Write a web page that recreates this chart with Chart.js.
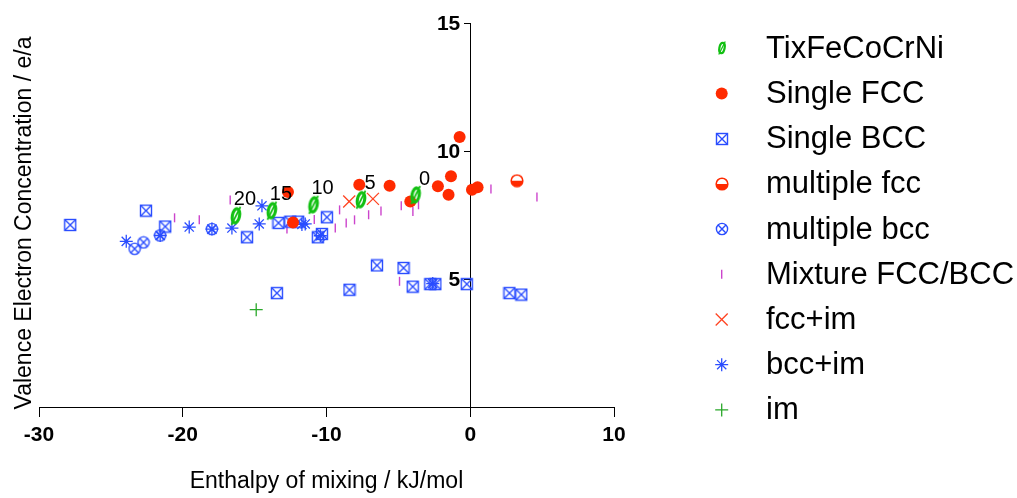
<!DOCTYPE html>
<html><head><meta charset="utf-8">
<script src="https://cdn.jsdelivr.net/npm/chart.js@4"></script>
<style>html,body{margin:0;padding:0;background:#fff;}canvas{display:block;}</style>
</head><body>
<canvas id="c" width="1017" height="498"></canvas>
<script>
// ---- data ----
const tiX = [-16.3, -13.8, -10.9, -7.6, -3.8];
const tiY = [7.47, 7.67, 7.90, 8.10, 8.28];
const tiLabels = ['20', '15', '10', '5', '0'];

const fccX = [-12.68, -12.33, -7.72, -5.61, -4.17, -2.25, -1.34, -1.51, -0.74, 0.12, 0.51];
const fccY = [8.40, 7.21, 8.68, 8.64, 8.03, 8.62, 9.01, 8.29, 10.55, 8.49, 8.58];

const bccX = [-27.83, -22.56, -21.22, -15.53, -13.34, -12.52, -11.97, -9.97, -10.32, -10.6, -6.49, -4.64, -4.0, -2.78, -2.43, -0.24, -13.45, -8.4, 2.73, 3.55];
const bccY = [7.11, 7.67, 7.05, 6.63, 7.19, 7.24, 7.24, 7.41, 6.76, 6.63, 5.53, 5.43, 4.70, 4.80, 4.80, 4.80, 4.45, 4.58, 4.45, 4.39];

const mfccX = [3.25];
const mfccY = [8.84];

const mbccX = [-23.35, -22.73, -21.57, -17.97];
const mbccY = [6.18, 6.43, 6.70, 6.95];

const mixX = [-20.57, -18.85, -16.7, -12.75, -10.85, -9.39, -9.09, -8.63, -8.05, -7.07, -6.21, -4.8, -3.99, -3.6, 1.44, 4.64, -4.92];
const mixY = [7.39, 7.31, 8.09, 6.95, 7.32, 6.99, 7.70, 7.19, 7.31, 7.51, 7.66, 7.86, 7.64, 7.90, 8.52, 8.20, 4.91];

const fccImX = [-8.42, -6.77];
const fccImY = [8.03, 8.13];

const bccImX = [-23.93, -21.57, -19.55, -17.97, -16.58, -14.49, -14.68, -11.71, -11.48, -10.43, -2.61];
const bccImY = [6.47, 6.70, 7.03, 6.95, 6.99, 7.86, 7.15, 7.13, 7.15, 6.69, 4.82];

const imX = [-14.89];
const imY = [3.80];

const xTicks = [-30, -20, -10, 0, 10];
const yTicks = [5, 10, 15];
const seriesNames = ['TixFeCoCrNi', 'Single FCC', 'Single BCC', 'multiple fcc', 'multiple bcc', 'Mixture FCC/BCC', 'fcc+im', 'bcc+im', 'im'];

// ---- styles ----
const GREEN = '#12c012', RED = '#ff2a00', BLUE = '#2a4dff', MAG = '#cc44cc', GREEN2 = '#2aa82a';
const FONT = '"Liberation Sans", Arial, sans-serif';

function mk(w, h, draw) { const c = document.createElement('canvas'); c.width = w; c.height = h; draw(c.getContext('2d'), w, h); return c; }
function phiImg(s) {
  const w = Math.round(14 * s), h = Math.round(22 * s);
  return mk(w, h, (g) => {
    g.translate(w / 2, h / 2); g.rotate(0.2);
    g.strokeStyle = GREEN; g.lineWidth = 3.1 * s;
    g.beginPath(); g.ellipse(0, 0, 3.6 * s, 7.2 * s, 0, 0, Math.PI * 2); g.stroke();
    g.rotate(-0.2);
    g.lineWidth = 1.7 * s; g.beginPath(); g.moveTo(-4.5 * s, 9 * s); g.lineTo(4.5 * s, -9 * s); g.stroke();
  });
}
const boxX = mk(14, 14, (g) => {
  g.strokeStyle = BLUE; g.lineWidth = 1.4;
  g.strokeRect(1.5, 1.5, 11, 11);
  g.beginPath(); g.moveTo(2, 2); g.lineTo(12, 12); g.moveTo(12, 2); g.lineTo(2, 12); g.stroke();
});
const circX = mk(14, 14, (g) => {
  g.strokeStyle = BLUE; g.lineWidth = 1.4;
  g.beginPath(); g.arc(7, 7, 5.6, 0, Math.PI * 2); g.stroke();
  const r = 5.6 * 0.707;
  g.beginPath(); g.moveTo(7 - r, 7 - r); g.lineTo(7 + r, 7 + r); g.moveTo(7 + r, 7 - r); g.lineTo(7 - r, 7 + r); g.stroke();
});
const halfC = mk(14, 14, (g) => {
  g.fillStyle = '#fff'; g.beginPath(); g.arc(7, 7, 5.8, 0, Math.PI * 2); g.fill();
  g.fillStyle = RED; g.beginPath(); g.arc(7, 7, 5.8, 0, Math.PI); g.closePath(); g.fill();
  g.strokeStyle = RED; g.lineWidth = 1.6; g.beginPath(); g.arc(7, 7, 5.8, 0, Math.PI * 2); g.stroke();
});
const phiPlot = phiImg(1), phiLeg = phiImg(0.72);

function pts(xs, ys) { return xs.map((x, i) => ({ x: x, y: ys[i] })); }

const datasets = [
  { label: seriesNames[0], data: pts(tiX, tiY), pointStyle: phiPlot, legendStyle: phiLeg },
  { label: seriesNames[1], data: pts(fccX, fccY), pointStyle: 'circle', pointRadius: 6, backgroundColor: RED, borderColor: RED, borderWidth: 0 },
  { label: seriesNames[2], data: pts(bccX, bccY), pointStyle: boxX },
  { label: seriesNames[3], data: pts(mfccX, mfccY), pointStyle: halfC },
  { label: seriesNames[4], data: pts(mbccX, mbccY), pointStyle: circX },
  { label: seriesNames[5], data: pts(mixX, mixY), pointStyle: 'line', rotation: 90, pointRadius: 4.5, borderColor: MAG, borderWidth: 1.4 },
  { label: seriesNames[6], data: pts(fccImX, fccImY), pointStyle: 'crossRot', pointRadius: 8.5, borderColor: '#ff4422', borderWidth: 1.3 },
  { label: seriesNames[7], data: pts(bccImX, bccImY), pointStyle: 'star', pointRadius: 6.5, borderColor: BLUE, borderWidth: 1.3 },
  { label: seriesNames[8], data: pts(imX, imY), pointStyle: 'cross', pointRadius: 6.5, borderColor: GREEN2, borderWidth: 1.3 }
];
datasets.forEach(d => { d.showLine = false; if (d.pointRadius === undefined) d.pointRadius = 7; d.pointHoverRadius = d.pointRadius; });

const extras = {
  id: 'extras',
  afterDraw(chart) {
    const ctx = chart.ctx;
    const ca = chart.chartArea;
    const xs = chart.scales.x, ys = chart.scales.y;
    ctx.save();
    // y tick labels, left of the centred axis
    ctx.fillStyle = '#000'; ctx.font = 'bold 21px ' + FONT; ctx.textAlign = 'right'; ctx.textBaseline = 'middle';
    const ax = xs.getPixelForValue(0);
    yTicks.forEach(v => ctx.fillText(String(v), ax - 10, ys.getPixelForValue(v) + 1));
    // labels on TixFeCoCrNi points
    ctx.font = '20px ' + FONT; ctx.textAlign = 'center';
    chart.getDatasetMeta(0).data.forEach((el, i) => { ctx.fillText(tiLabels[i], el.x + 9, el.y - 16); });
    // axis titles
    ctx.font = '23px ' + FONT;
    ctx.fillText('Enthalpy of mixing / kJ/mol', (ca.left + ca.right) / 2, 482);
    ctx.save(); ctx.translate(25, 223); ctx.rotate(-Math.PI / 2);
    ctx.fillText('Valence Electron Concentration / e/a', 0, 0); ctx.restore();
    // legend
    ctx.textAlign = 'left'; ctx.font = '31px ' + FONT;
    datasets.forEach((d, i) => {
      const y = 48.3 + 45.2 * i, x = 721.7;
      const st = d.legendStyle || d.pointStyle;
      if (typeof st !== 'string') {
        ctx.drawImage(st, Math.round(x - st.width / 2), Math.round(y - st.height / 2));
      } else {
        ctx.fillStyle = d.backgroundColor || d.borderColor; ctx.strokeStyle = d.borderColor || d.backgroundColor;
        ctx.lineWidth = d.borderWidth || 1;
        Chart.helpers.drawPoint(ctx, { pointStyle: st, rotation: d.rotation || 0, radius: d.pointRadius, borderWidth: d.borderWidth }, x, y);
      }
      ctx.fillStyle = '#000';
      ctx.fillText(d.label, 766, y + 1);
    });
    ctx.restore();
  }
};

new Chart(document.getElementById('c'), {
  type: 'scatter',
  data: { datasets: datasets },
  options: {
    responsive: false, animation: false, devicePixelRatio: 1,
    layout: { padding: { left: 39, top: 23, right: 403, bottom: 0 } },
    plugins: { legend: { display: false }, tooltip: { enabled: false } },
    scales: {
      x: {
        type: 'linear', position: 'bottom', min: -30, max: 10,
        afterFit(s) { s.height = 91; },
        afterBuildTicks(s) { s.ticks = xTicks.map(v => ({ value: v })); },
        grid: { drawOnChartArea: false, drawTicks: true, tickLength: 10, color: '#000', lineWidth: 1 },
        border: { display: true, color: '#000', width: 1 },
        ticks: { color: '#000', font: { family: FONT, size: 21, weight: 'bold' }, padding: 6, maxRotation: 0 }
      },
      y: {
        type: 'linear', position: { x: 0 }, min: 0, max: 15,
        afterBuildTicks(s) { s.ticks = yTicks.map(v => ({ value: v })); },
        grid: { drawOnChartArea: false, drawTicks: true, tickLength: 6, color: '#000', lineWidth: 1 },
        border: { display: true, color: '#000', width: 1 },
        ticks: { display: false }
      }
    }
  },
  plugins: [extras]
});
</script>
</body></html>
